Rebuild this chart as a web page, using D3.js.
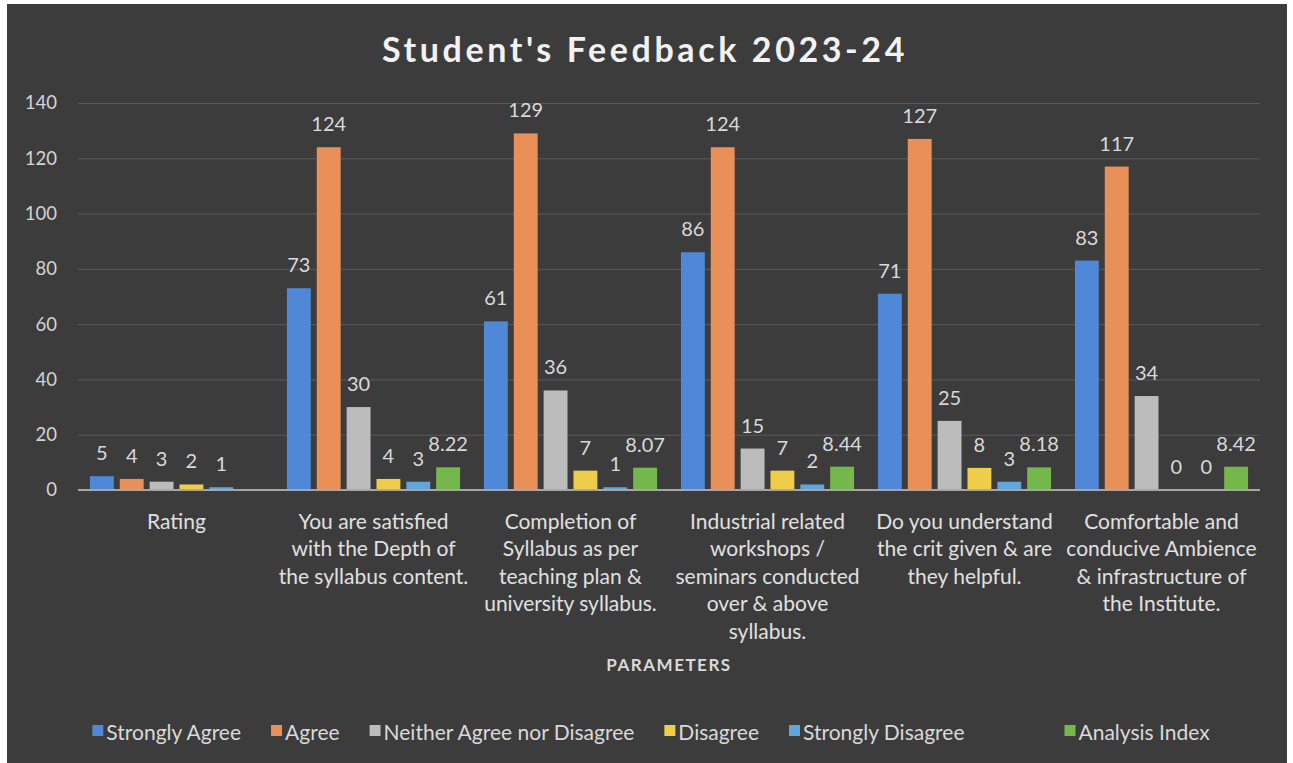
<!DOCTYPE html>
<html>
<head>
<meta charset="utf-8">
<script src="https://cdn.jsdelivr.net/npm/d3@7"></script>
<style>
  body { margin: 0; background: #ffffff; }
  svg { display: block; }
  text { font-family: Lato, "Open Sans", sans-serif; }
</style>
</head>
<body>
<script>
// chart values
var categories = [
  ["Rating"],
  ["You are satisfied", "with the Depth of", "the syllabus content."],
  ["Completion of", "Syllabus as per", "teaching plan &", "university syllabus."],
  ["Industrial related", "workshops /", "seminars conducted", "over & above", "syllabus."],
  ["Do you understand", "the crit given & are", "they helpful."],
  ["Comfortable and", "conducive Ambience", "& infrastructure of", "the Institute."]
];
var seriesNames = ["Strongly Agree", "Agree", "Neither Agree nor Disagree", "Disagree", "Strongly Disagree", "Analysis Index"];
var seriesColors = ["#4f88d6", "#e98f58", "#bcbcbc", "#f0cd48", "#5ea6dc", "#74b84c"];
var stronglyAgree = [5, 73, 61, 86, 71, 83];
var agree = [4, 124, 129, 124, 127, 117];
var neither = [3, 30, 36, 15, 25, 34];
var disagree = [2, 4, 7, 7, 8, 0];
var stronglyDisagree = [1, 3, 1, 2, 3, 0];
var analysisIndex = [null, 8.22, 8.07, 8.44, 8.18, 8.42];
var yTicks = [0, 20, 40, 60, 80, 100, 120, 140];

var W = 1293, H = 763;
var seriesValues = [stronglyAgree, agree, neither, disagree, stronglyDisagree, analysisIndex];

var svg = d3.select("body").append("svg").attr("width", W).attr("height", H);

// dark chart panel (scanned page has white margin around it)
svg.append("rect")
  .attr("x", 7).attr("y", 4).attr("width", 1280).attr("height", H - 4)
  .attr("fill", "#3c3c3c");

var x0 = d3.scaleBand().domain(d3.range(categories.length)).range([78, 1260]);
var x1 = d3.scaleBand().domain(d3.range(seriesNames.length))
  .range([0, x0.bandwidth()]).paddingInner(0.2).paddingOuter(0.4);
var y = d3.scaleLinear().domain([0, 140]).range([490, 103]);

// title
svg.append("text")
  .attr("x", 645).attr("y", 48)
  .attr("text-anchor", "middle").attr("dominant-baseline", "central")
  .attr("font-size", 34).attr("font-weight", "bold")
  .attr("letter-spacing", 3.6)
  .attr("fill", "#f2f2f2")
  .text("Student's Feedback 2023-24");

// gridlines + y labels
var yAxis = d3.axisLeft(y).tickValues(yTicks).tickSize(-(1260 - 78)).tickPadding(21);
var gy = svg.append("g").attr("transform", "translate(78,0)").call(yAxis);
gy.select(".domain").remove();
gy.selectAll(".tick line").attr("stroke", "#5a5a5a").attr("stroke-width", 1);
gy.selectAll(".tick text").attr("fill", "#d4d4d4").attr("font-size", 18.5);

// bars
var groups = svg.append("g").selectAll("g")
  .data(categories)
  .join("g")
  .attr("transform", function(d, i) { return "translate(" + x0(i) + ",0)"; });

groups.each(function(cat, ci) {
  var g = d3.select(this);
  var vals = seriesValues.map(function(s, si) { return { si: si, v: s[ci] }; })
    .filter(function(d) { return d.v !== null; });

  g.selectAll("rect").data(vals).join("rect")
    .attr("x", function(d) { return x1(d.si); })
    .attr("y", function(d) { return y(d.v); })
    .attr("width", x1.bandwidth())
    .attr("height", function(d) { return y(0) - y(d.v); })
    .attr("fill", function(d) { return seriesColors[d.si]; });

  g.selectAll("text.val").data(vals).join("text")
    .attr("class", "val")
    .attr("x", function(d) { return x1(d.si) + x1.bandwidth() / 2; })
    .attr("y", function(d) { return y(d.v) - 24; })
    .attr("text-anchor", "middle").attr("dominant-baseline", "central")
    .attr("font-size", 20).attr("fill", "#d9d9d9")
    .text(function(d) { return d.v; });
});

// x axis line
svg.append("line")
  .attr("x1", 78).attr("x2", 1260).attr("y1", y(0)).attr("y2", y(0))
  .attr("stroke", "#a6a6a6").attr("stroke-width", 2);

// category labels
var catLabels = svg.append("g").selectAll("text")
  .data(categories)
  .join("text")
  .attr("x", function(d, i) { return x0(i) + x0.bandwidth() / 2; })
  .attr("y", 520)
  .attr("text-anchor", "middle")
  .attr("font-size", 21).attr("fill", "#e0e0e0");
catLabels.selectAll("tspan")
  .data(function(d) { return d; })
  .join("tspan")
  .attr("x", function() { return d3.select(this.parentNode).attr("x"); })
  .attr("dy", function(d, i) { return i === 0 ? 0 : 27.5; })
  .attr("dominant-baseline", "central")
  .text(function(d) { return d; });

// axis title
svg.append("text")
  .attr("x", 669).attr("y", 664)
  .attr("text-anchor", "middle").attr("dominant-baseline", "central")
  .attr("font-size", 17).attr("font-weight", "bold").attr("fill", "#d9d9d9")
  .attr("letter-spacing", 1.5)
  .text("PARAMETERS");

// legend
var legend = svg.append("g");
var items = legend.selectAll("g").data(seriesNames).join("g");
items.append("rect")
  .attr("width", 11).attr("height", 11).attr("y", -6)
  .attr("fill", function(d, i) { return seriesColors[i]; });
items.append("text")
  .attr("x", 14).attr("dominant-baseline", "central")
  .attr("font-size", 21).attr("fill", "#d9d9d9")
  .text(function(d) { return d; });

var lx = 0;
items.each(function(d, i) {
  if (i === seriesNames.length - 1) lx += 70;
  d3.select(this).attr("transform", "translate(" + lx + ",0)");
  lx += 14 + this.querySelector("text").getComputedTextLength() + 30;
});
var legendW = lx - 30;
legend.attr("transform", "translate(" + (651 - legendW / 2) + ",731)");
</script>
</body>
</html>
